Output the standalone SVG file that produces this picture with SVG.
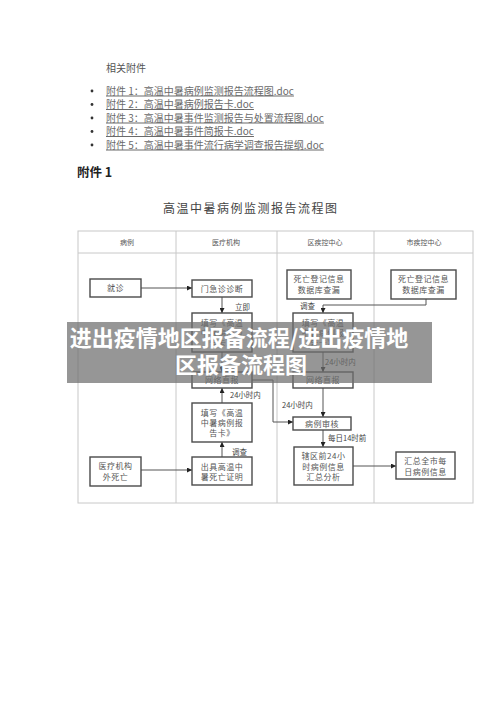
<svg xmlns="http://www.w3.org/2000/svg" width="500" height="706" viewBox="0 0 500 706">
<defs>
<style>
.doc{font-family:"Noto Sans CJK SC","Liberation Serif",serif;}
.li{font-family:"Noto Sans CJK SC","Liberation Serif",serif;font-size:10px;fill:#6a6a6a;text-decoration:underline;}
.hd{font-family:"Noto Sans CJK SC",sans-serif;font-size:7px;fill:#555;text-anchor:middle;}
.tbl{fill:none;stroke:#c8c8c8;stroke-width:1;}
.box rect{fill:#fff;stroke:#4a4a4a;stroke-width:1.4;}
.box text{font-family:"Noto Sans CJK SC",sans-serif;font-size:8px;fill:#555;text-anchor:middle;letter-spacing:0.5px;}
.lbl{font-family:"Noto Sans CJK SC",sans-serif;font-size:7.5px;fill:#444;}
.cn{fill:none;stroke:#555;stroke-width:1;}
.ban{font-family:"Noto Sans CJK SC",sans-serif;font-size:22px;font-weight:700;fill:#fff;text-anchor:middle;}
</style>
<marker id="ah" viewBox="0 0 10 10" refX="10" refY="5" markerWidth="5" markerHeight="5" orient="auto" markerUnits="userSpaceOnUse">
<path d="M0,0 L10,5 L0,10 z" fill="#222"/>
</marker>
</defs>
<rect width="500" height="706" fill="#fff"/>

<g id="attachments">
<text class="doc" x="106" y="72" font-size="10" fill="#555">相关附件</text>
<g fill="#333">
<circle cx="92" cy="91" r="1.4"/>
<circle cx="92" cy="104.5" r="1.4"/>
<circle cx="92" cy="118" r="1.4"/>
<circle cx="92" cy="131.5" r="1.4"/>
<circle cx="92" cy="145" r="1.4"/>
</g>
<text class="li" x="106" y="94.5">附件 1：高温中暑病例监测报告流程图.doc</text>
<text class="li" x="106" y="108">附件 2：高温中暑病例报告卡.doc</text>
<text class="li" x="106" y="121.5">附件 3：高温中暑事件监测报告与处置流程图.doc</text>
<text class="li" x="106" y="135">附件 4：高温中暑事件简报卡.doc</text>
<text class="li" x="106" y="148.5">附件 5：高温中暑事件流行病学调查报告提纲.doc</text>
</g>

<text class="doc" x="77" y="177" font-size="12.5" font-weight="700" fill="#222">附件 1</text>
<text class="doc" x="163" y="213" font-size="12" fill="#444" letter-spacing="1.5">高温中暑病例监测报告流程图</text>

<g id="table">
<rect class="tbl" x="78" y="231" width="395" height="272"/>
<line class="tbl" x1="78" y1="253" x2="473" y2="253"/>
<line class="tbl" x1="176" y1="231" x2="176" y2="503"/>
<line class="tbl" x1="277" y1="231" x2="277" y2="503"/>
<line class="tbl" x1="374" y1="231" x2="374" y2="503" stroke-width="1.6"/>
<text class="hd" x="127" y="245">病例</text>
<text class="hd" x="226" y="245">医疗机构</text>
<text class="hd" x="325" y="245">区疾控中心</text>
<text class="hd" x="424" y="245">市疾控中心</text>
</g>

<g id="connectors">
<line class="cn" x1="141" y1="288" x2="192" y2="288" marker-end="url(#ah)"/>
<line class="cn" x1="222" y1="297" x2="222" y2="313" marker-end="url(#ah)"/>
<line class="cn" x1="222" y1="352" x2="222" y2="372" marker-end="url(#ah)"/>
<line class="cn" x1="222" y1="403" x2="222" y2="388" marker-end="url(#ah)"/>
<line class="cn" x1="222" y1="457" x2="222" y2="442" marker-end="url(#ah)"/>
<line class="cn" x1="141" y1="470" x2="192" y2="470" marker-end="url(#ah)"/>
<polyline class="cn" points="426,299 426,305 323,305 323,313" marker-end="url(#ah)"/>
<line class="cn" x1="323" y1="352" x2="323" y2="372" marker-end="url(#ah)"/>
<line class="cn" x1="323" y1="388" x2="323" y2="417" marker-end="url(#ah)"/>
<polyline class="cn" points="252,380 273,380 273,422 293,422" marker-end="url(#ah)"/>
<line class="cn" x1="323" y1="430" x2="323" y2="447" marker-end="url(#ah)"/>
<line class="cn" x1="353" y1="466" x2="396" y2="466" marker-end="url(#ah)"/>
<text class="lbl" x="235" y="310">立即</text>
<text class="lbl" x="300" y="309">调查</text>
<text class="lbl" x="325" y="365">24小时内</text>
<text class="lbl" x="230" y="398">24小时内</text>
<text class="lbl" x="282" y="408">24小时内</text>
<text class="lbl" x="328" y="441">每日14时前</text>
<text class="lbl" x="232" y="455">调查</text>
</g>

<g id="n-jiuzhen" class="box"><rect x="90" y="279" width="51" height="18"/><text x="115.5" y="291">就诊</text></g>
<g id="n-menzhen" class="box"><rect x="192" y="280" width="60" height="17"/><text x="222" y="291.5">门急诊诊断</text></g>
<g id="n-tianxie1" class="box"><rect x="192" y="313" width="60" height="39"/><text x="222" y="326">填写《高温</text><text x="222" y="336">中暑病例报</text><text x="222" y="346">告卡》</text></g>
<g id="n-wangluo1" class="box"><rect x="192" y="372" width="60" height="16"/><text x="222" y="383">网络直报</text></g>
<g id="n-tianxie2" class="box"><rect x="192" y="403" width="60" height="39"/><text x="222" y="416">填写《高温</text><text x="222" y="426">中暑病例报</text><text x="222" y="436">告卡》</text></g>
<g id="n-chuju" class="box"><rect x="192" y="457" width="60" height="28"/><text x="222" y="470">出具高温中</text><text x="222" y="480">暑死亡证明</text></g>
<g id="n-waisiwang" class="box"><rect x="90" y="457" width="51" height="29"/><text x="115.5" y="469">医疗机构</text><text x="115.5" y="480">外死亡</text></g>
<g id="n-qu-siwang" class="box"><rect x="287" y="270" width="64" height="29"/><text x="319" y="282">死亡登记信息</text><text x="319" y="293">数据库查漏</text></g>
<g id="n-shi-siwang" class="box"><rect x="391" y="270" width="65" height="29"/><text x="423.5" y="282">死亡登记信息</text><text x="423.5" y="293">数据库查漏</text></g>
<g id="n-tianxie3" class="box"><rect x="293" y="313" width="60" height="39"/><text x="323" y="326">填写《高温</text><text x="323" y="336">中暑病例报</text><text x="323" y="346">告卡》</text></g>
<g id="n-wangluo2" class="box"><rect x="293" y="372" width="60" height="16"/><text x="323" y="383">网络直报</text></g>
<g id="n-shenhe" class="box"><rect x="293" y="417" width="58" height="13"/><text x="322" y="426.5">病例审核</text></g>
<g id="n-xiaqu" class="box"><rect x="294" y="447" width="59" height="38"/><text x="323.5" y="459">辖区前24小</text><text x="323.5" y="470">时病例信息</text><text x="323.5" y="480">汇总分析</text></g>
<g id="n-huizong" class="box"><rect x="396" y="452" width="59" height="27"/><text x="425.5" y="464">汇总全市每</text><text x="425.5" y="475">日病例信息</text></g>

<g id="banner">
<rect x="67" y="322" width="365" height="61" fill="#6e6e6e" opacity="0.72"/>
<text class="ban" x="239" y="346">进出疫情地区报备流程/进出疫情地</text>
<text class="ban" x="241" y="373">区报备流程图</text>
</g>
</svg>
